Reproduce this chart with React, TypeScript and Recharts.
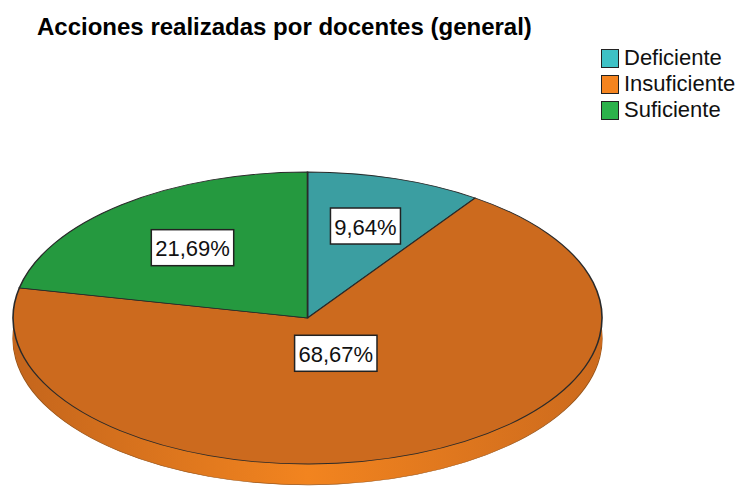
import { Pie, PieChart, Cell } from "recharts";

const CATEGORIES = ["Deficiente", "Insuficiente", "Suficiente"];
const COUNTS = [8, 57, 18];

const TOP_COLORS = ["#3b9ea1", "#cc6a1e", "#25993f"];
const LEGEND_COLORS = ["#3ec1c5", "#f5841f", "#2cb24b"];
const SIDE_GRADIENTS = [
  ["#2f8487", "#3ea9ac", "#2f8487"],
  ["#c4651c", "#f2841f", "#cc6a1d"],
  ["#1e7f34", "#2aa746", "#1e7f34"],
];

// label distance from centre, as a share of the radius
const LABEL_RADIUS = [0.66, 0.26, 0.62];

const W = 739;
const H = 486;
const CX = 307.5;
const R = 294.5;
const K = 0.4958; // vertical squash of the tilted disc
const CY = 318 / K;
const DEPTH = 42; // unscaled
const RAD = Math.PI / 180;
const FONT = "'Liberation Sans', Arial, Helvetica, sans-serif";

const data = CATEGORIES.map((name, i) => ({ name, value: COUNTS[i] }));

const layers: number[] = [];
for (let d = DEPTH; d > 0; d -= 2) layers.push(d);

function renderLabel(props: any) {
  const { cx, cy, midAngle, outerRadius, percent, index } = props;
  const r = outerRadius * LABEL_RADIUS[index];
  const x = cx + r * Math.cos(-midAngle * RAD);
  const y = cy + r * Math.sin(-midAngle * RAD);
  const text = (percent * 100).toFixed(2).replace(".", ",") + "%";
  const w = text.length * 12.4 + 8;
  return (
    <g transform={`translate(${x},${y}) scale(1,${1 / K})`}>
      <rect x={-w / 2} y={-18} width={w} height={36} fill="#fff" stroke="#222" strokeWidth={1.5} />
      <text
        x={0}
        y={1}
        textAnchor="middle"
        dominantBaseline="central"
        fontSize={22}
        fontFamily={FONT}
        fill="#111"
      >
        {text}
      </text>
    </g>
  );
}

export default function App() {
  return (
    <div style={{ position: "relative", width: W, height: H, overflow: "hidden", background: "#fff" }}>
      <style>{`body{margin:0}`}</style>
      <div
        style={{
          position: "absolute",
          left: 37,
          top: 13,
          fontFamily: FONT,
          fontWeight: "bold",
          fontSize: 24,
          color: "#000",
          whiteSpace: "nowrap",
        }}
      >
        Acciones realizadas por docentes (general)
      </div>

      <div style={{ position: "absolute", left: 601, top: 45, fontFamily: FONT, fontSize: 22 }}>
        {CATEGORIES.map((c, i) => (
          <div key={c} style={{ display: "flex", alignItems: "center", height: 26 }}>
            <span
              style={{
                width: 16,
                height: 17,
                background: LEGEND_COLORS[i],
                border: "1.5px solid #222",
                marginRight: 5,
              }}
            />
            <span style={{ color: "#111" }}>{c}</span>
          </div>
        ))}
      </div>

      <div
        style={{
          position: "absolute",
          left: 0,
          top: 0,
          transform: `scaleY(${K})`,
          transformOrigin: "0 0",
        }}
      >
        <PieChart width={W} height={1000} margin={{ top: 0, right: 0, bottom: 0, left: 0 }}>
          <defs>
            {SIDE_GRADIENTS.map((g, i) => (
              <linearGradient key={i} id={`side${i}`} x1="0" y1="0" x2="1" y2="0">
                <stop offset="0%" stopColor={g[0]} />
                <stop offset="50%" stopColor={g[1]} />
                <stop offset="100%" stopColor={g[2]} />
              </linearGradient>
            ))}
          </defs>
          {layers.map((d, li) => (
            <Pie
              key={`side-${d}`}
              data={data}
              dataKey="value"
              cx={CX}
              cy={CY + d}
              outerRadius={R}
              startAngle={90}
              endAngle={-270}
              stroke={li === 0 ? "#9a5518" : "none"}
              strokeWidth={li === 0 ? 1.2 : 0}
              label={false}
              labelLine={false}
              isAnimationActive={false}
            >
              {data.map((_e, i) => (
                <Cell key={i} fill={`url(#side${i})`} />
              ))}
            </Pie>
          ))}
          <Pie
            data={data}
            dataKey="value"
            cx={CX}
            cy={CY}
            outerRadius={R}
            startAngle={90}
            endAngle={-270}
            stroke="#2a2a2a"
            strokeWidth={1.6}
            label={renderLabel}
            labelLine={false}
            isAnimationActive={false}
          >
            {data.map((_e, i) => (
              <Cell key={i} fill={TOP_COLORS[i]} />
            ))}
          </Pie>
        </PieChart>
      </div>
    </div>
  );
}
